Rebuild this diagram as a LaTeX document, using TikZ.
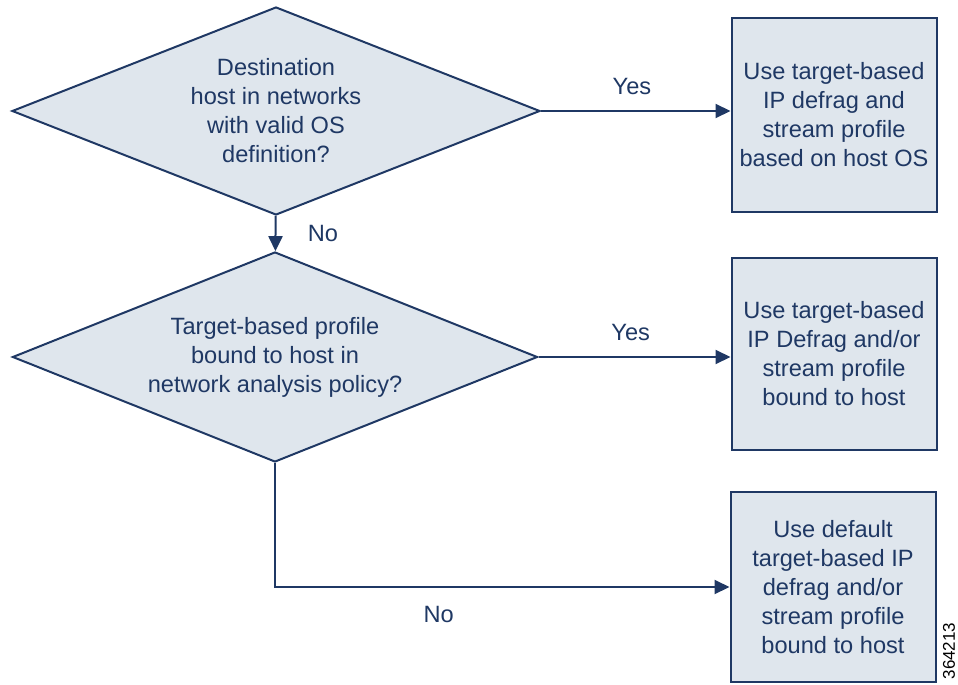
\documentclass[tikz,border=0pt]{standalone}
\usepackage{fontspec}
\setmainfont{Liberation Sans}
\usetikzlibrary{shapes.geometric,arrows.meta}
\definecolor{navy}{RGB}{31,56,100}
\definecolor{paleblue}{RGB}{223,230,237}

\begin{document}
\begin{tikzpicture}[
		decision/.style={diamond, draw=navy, fill=paleblue, line width=2pt, inner sep=0pt,
			aspect=2.5, align=center, text=navy, font=\fontsize{23.6}{29}\selectfont},
		action/.style={draw=navy, fill=paleblue, line width=2pt, minimum width=205pt,
			align=center, text=navy, font=\fontsize{23.6}{29}\selectfont},
		link/.style={-{Triangle[length=15pt, width=14pt]}, draw=navy, line width=2pt},
		answer/.style={text=navy, font=\fontsize{23.6}{29}\selectfont}
	]

	\useasboundingbox (0pt, 0pt) rectangle (958pt, -685pt);

	\node[decision, minimum width=528pt, minimum height=208pt] at (276pt, -111pt) (dest)
		{Destination\\host in networks\\with valid OS\\definition?};
	\node[decision, minimum width=525pt, minimum height=210pt] at (275pt, -357pt) (bound)
		{Target-based profile\\bound to host in\\network analysis policy?};

	\node[action, minimum height=194pt] at (834pt, -115pt) (osprof)
		{Use target-based\\IP defrag and\\stream profile\\based on host OS};
	\node[action, minimum height=192pt] at (834pt, -354pt) (hostprof)
		{Use target-based\\IP Defrag and/or\\stream profile\\bound to host};
	\node[action, minimum height=190pt] at (833pt, -587pt) (deflt)
		{Use default\\target-based IP\\defrag and/or\\stream profile\\bound to host};

	\draw[link] (dest.east) -- node[answer, pos=0.48, above=12pt] {Yes} (dest.east -| osprof.west);
	\draw[link] (dest) -- node[answer, midway, right=28pt] {No} (bound);
	\draw[link] (bound.east) -- node[answer, pos=0.48, above=12pt] {Yes} (bound.east -| hostprof.west);
	\draw[link] (bound.south) |- node[answer, pos=0.68, below=15pt] {No} (deflt.west);

	\node[rotate=90, font=\fontsize{17}{19}\selectfont] at (949pt, -651pt) (figid) {364213};

\end{tikzpicture}
\end{document}
